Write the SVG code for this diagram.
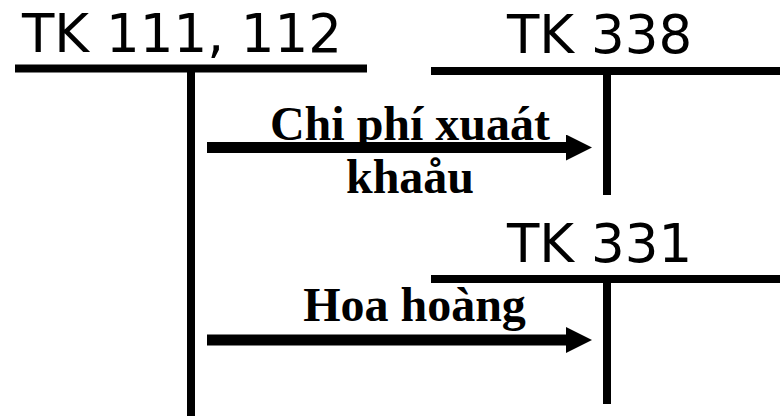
<svg xmlns="http://www.w3.org/2000/svg" width="780" height="416" viewBox="0 0 780 416">
<defs>
<style>
.acct{font-family:"DejaVu Sans",sans-serif;font-size:53px;fill:#000}
.lbl{font-family:"Liberation Serif",serif;font-size:48px;font-weight:bold;fill:#000;text-anchor:middle}
.t{stroke:#000;stroke-width:8;fill:none}
.arr{stroke:#000;stroke-width:11;fill:none}
</style>
<marker id="ah" markerUnits="userSpaceOnUse" markerWidth="26" markerHeight="26" viewBox="0 0 24 24" refX="0" refY="12" orient="auto">
<path d="M0,0 L24,12 L0,24 Z" fill="#000"/>
</marker>
</defs>
<rect width="780" height="416" fill="#fff"/>
<g id="tk111">
<text class="acct" x="22" y="52">TK 111, 112</text>
<path class="t" d="M15,68.5 H367 M191,68.5 V416"/>
</g>
<g id="tk338">
<text class="acct" x="507" y="53">TK 338</text>
<path class="t" d="M431,71 H780 M607,71 V195"/>
</g>
<g id="tk331">
<text class="acct" x="507" y="262">TK 331</text>
<path class="t" d="M431,279 H780 M607,279 V404"/>
</g>
<g id="connectors">
<path class="arr" d="M207,147.5 H566" marker-end="url(#ah)"/>
<text class="lbl" x="410" y="140">Chi phí xuaát</text>
<text class="lbl" x="410" y="193">khaåu</text>
<path class="arr" d="M207,340 H566" marker-end="url(#ah)"/>
<text class="lbl" x="414.5" y="321">Hoa hoàng</text>
</g>
</svg>
